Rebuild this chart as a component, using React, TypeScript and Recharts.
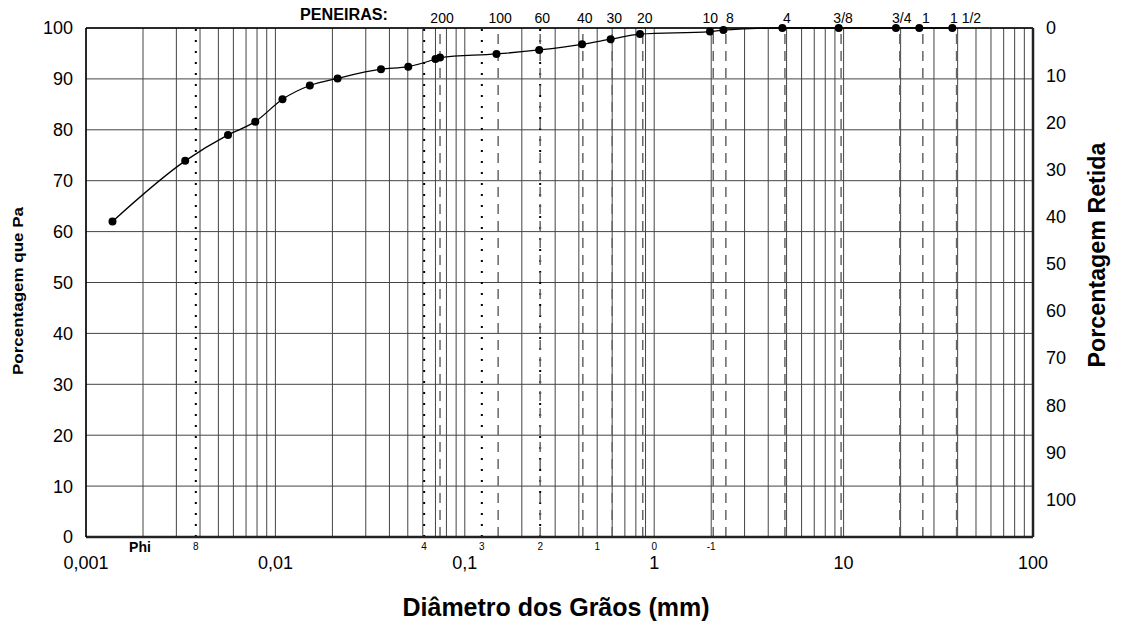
import React from "react";
import { LineChart, Line, XAxis, YAxis, CartesianGrid, ReferenceLine, Label } from "recharts";

// grain size distribution (diameter in mm, % passing)
const diameters = [
  0.00138, 0.00334, 0.00562, 0.00783, 0.0109, 0.0152, 0.0213, 0.0361, 0.0503, 0.07, 0.074,
  0.147, 0.247, 0.416, 0.589, 0.841, 1.97, 2.32, 4.75, 9.42, 18.9, 25.1, 37.5,
];
const passing = [
  62.0, 73.9, 79.0, 81.6, 86.0, 88.7, 90.1, 91.9, 92.4, 93.9, 94.2,
  94.9, 95.7, 96.8, 97.8, 98.8, 99.3, 99.6, 100, 100, 100, 100, 100,
];

// sieves (peneiras)
const sieveNames = ["200", "100", "60", "40", "30", "20", "10", "8", "4", "3/8", "3/4", "1", "1 1/2"];
const sieveSizes = [0.074, 0.15, 0.25, 0.42, 0.6, 0.87, 2.05, 2.39, 4.9, 9.7, 19.8, 26.2, 39.5];

// phi scale
const phiNames = ["8", "4", "3", "2", "1", "0", "-1"];
const phiSizes = [0.0038, 0.061, 0.123, 0.25, 0.5, 1, 2];
const phiDotted = [true, true, true, true, false, false, false];

const decadeTicks = [0.001, 0.01, 0.1, 1, 10, 100];
const decadeLabels = ["0,001", "0,01", "0,1", "1", "10", "100"];
const minorSteps = [1, 2, 3, 4, 5, 6, 7, 8, 9];
const leftTicks = [0, 10, 20, 30, 40, 50, 60, 70, 80, 90, 100];
const rightTicks = [0, 10, 20, 30, 40, 50, 60, 70, 80, 90, 100];

const gridTicks = decadeTicks
  .slice(0, -1)
  .flatMap((d) => minorSteps.map((m) => Number((d * m).toPrecision(3))))
  .concat([100]);

const data = diameters.map((d, i) => ({ d, p: passing[i] }));

const FONT = "'Liberation Sans', Arial, sans-serif";

// small horizontal nudges for crowded sieve labels
const labelNudge: Record<string, number> = { "10": -3, "8": 4, "1": 3, "1 1/2": 9 };

const XTick = ({ x, y, payload }: any) => {
  const i = decadeTicks.findIndex((v) => Math.abs(v - payload.value) / v < 1e-6);
  if (i < 0) return <g />;
  return (
    <text x={x} y={y + 32} textAnchor="middle" fontSize={18} fontFamily={FONT} fill="#000">
      {decadeLabels[i]}
    </text>
  );
};

const LeftTick = ({ x, y, payload }: any) => (
  <text x={x - 13} y={y} dy="0.36em" textAnchor="end" fontSize={18} fontFamily={FONT} fill="#000">
    {payload.value}
  </text>
);

const RightTick = ({ x, y, payload }: any) => (
  <text x={x + 13} y={y} dy="0.36em" textAnchor="start" fontSize={18} fontFamily={FONT} fill="#000">
    {payload.value}
  </text>
);

const sieveLabel = (name: string) => ({ viewBox }: any) => {
  const top = Math.min(viewBox.y, viewBox.y + viewBox.height);
  const nudge = labelNudge[name] ?? 2;
  return (
    <text x={viewBox.x + nudge} y={top - 5} textAnchor="middle" fontSize={14} fontFamily={FONT} fill="#000">
      {name}
    </text>
  );
};

const phiLabel = (name: string) => ({ viewBox }: any) => {
  const bottom = Math.max(viewBox.y, viewBox.y + viewBox.height);
  return (
    <text x={viewBox.x} y={bottom + 13} textAnchor="middle" fontSize={10} fontFamily={FONT} fill="#000">
      {name}
    </text>
  );
};

const Titles = () => (
  <g fontFamily={FONT} fill="#000" fontWeight="bold">
    <text x={556} y={616} textAnchor="middle" fontSize={25}>
      Diâmetro dos Grãos (mm)
    </text>
    <text x={344} y={20} textAnchor="middle" fontSize={16} textLength={88} lengthAdjust="spacingAndGlyphs">
      PENEIRAS:
    </text>
    <text x={140} y={552} textAnchor="middle" fontSize={14}>
      Phi
    </text>
    <text
      transform="translate(22.7,291) rotate(-90)"
      textAnchor="middle"
      fontSize={14}
      textLength={168}
      lengthAdjust="spacingAndGlyphs"
    >
      Porcentagem que Pa
    </text>
    <text
      transform="translate(1105,255) rotate(-90)"
      textAnchor="middle"
      fontSize={23}
      textLength={225}
      lengthAdjust="spacingAndGlyphs"
    >
      Porcentagem Retida
    </text>
  </g>
);

export default function App() {
  return (
    <div style={{ position: "absolute", left: 0, top: 0, width: 1121, height: 627, background: "#fff" }}>
      <LineChart width={1121} height={627} data={data} margin={{ top: 28, right: 28, bottom: 30, left: 26 }}>
        <CartesianGrid stroke="#444" strokeWidth={1} />
        <XAxis
          dataKey="d"
          type="number"
          scale="log"
          domain={[0.001, 100]}
          ticks={gridTicks}
          interval={0}
          tick={<XTick />}
          tickLine={false}
          tickSize={0}
          tickMargin={0}
          height={60}
          axisLine={{ stroke: "#222", strokeWidth: 2.5 }}
          allowDataOverflow
        >
          <Label content={() => <Titles />} />
        </XAxis>
        <YAxis
          domain={[0, 100]}
          ticks={leftTicks}
          interval={0}
          tick={<LeftTick />}
          tickLine={false}
          tickSize={0}
          tickMargin={0}
          width={60}
          axisLine={{ stroke: "#000", strokeWidth: 1.5 }}
        />
        <YAxis
          yAxisId="right"
          orientation="right"
          domain={[0, 108]}
          reversed
          ticks={rightTicks}
          interval={0}
          tick={<RightTick />}
          tickLine={false}
          tickSize={0}
          tickMargin={0}
          width={60}
          axisLine={{ stroke: "#222", strokeWidth: 2.5 }}
          allowDataOverflow
        />
        <ReferenceLine y={100} stroke="#000" strokeWidth={1.5} />
        {phiSizes.map((s, i) => (
          <ReferenceLine
            key={"phi" + i}
            x={s}
            stroke={phiDotted[i] ? "#000" : "none"}
            strokeWidth={2}
            strokeDasharray="2 9"
            label={phiLabel(phiNames[i])}
          />
        ))}
        {sieveSizes.map((s, i) => (
          <ReferenceLine
            key={"sv" + i}
            x={s}
            stroke="#666"
            strokeWidth={1.5}
            strokeDasharray="10 7"
            label={sieveLabel(sieveNames[i])}
          />
        ))}
        <Line
          dataKey="p"
          type="monotone"
          stroke="#000"
          strokeWidth={1.3}
          dot={{ r: 4, fill: "#000", stroke: "#000", strokeWidth: 0 }}
          isAnimationActive={false}
        />
      </LineChart>
    </div>
  );
}
